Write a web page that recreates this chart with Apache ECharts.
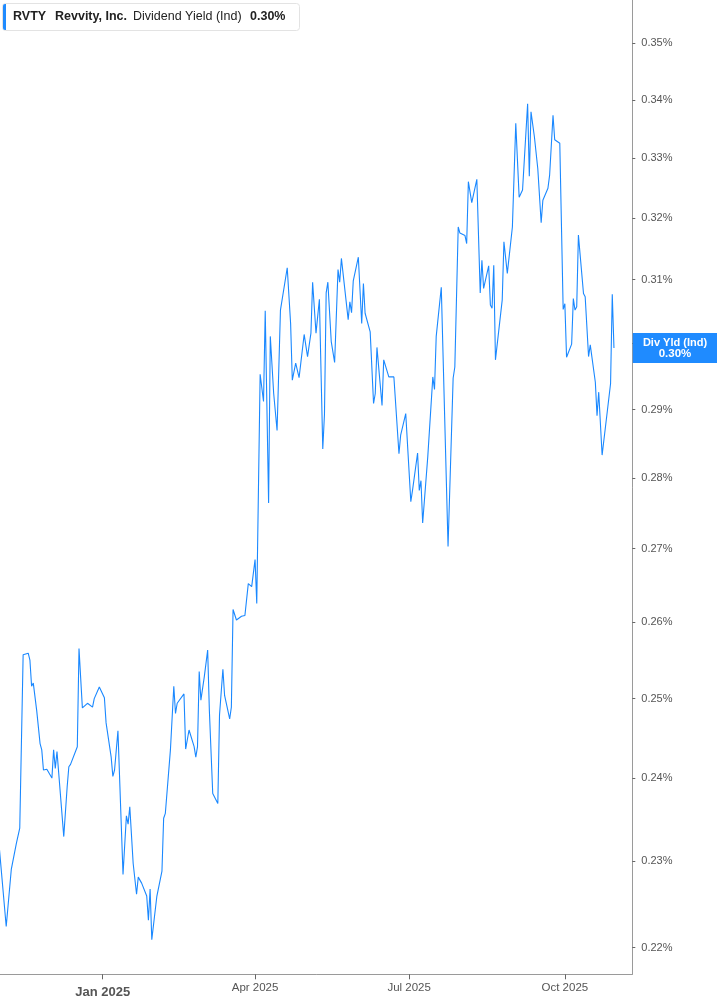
<!DOCTYPE html>
<html>
<head>
<meta charset="utf-8">
<script src="https://cdn.jsdelivr.net/npm/echarts@6/dist/echarts.min.js"></script>
<style>
html,body{margin:0;padding:0;background:#fff;}
#chart{width:717px;height:1005px;}
</style>
</head>
<body>
<div id="chart"></div>
<script>
// ---- data (dividend yield, %) ----
const dates = [
'2024-11-01','2024-11-05','2024-11-08','2024-11-11','2024-11-13','2024-11-15','2024-11-18','2024-11-19','2024-11-20','2024-11-21',
'2024-11-23','2024-11-25','2024-11-26','2024-11-27','2024-11-29','2024-12-02','2024-12-03','2024-12-04','2024-12-05','2024-12-09',
'2024-12-11','2024-12-12','2024-12-13','2024-12-17','2024-12-18','2024-12-20','2024-12-23','2024-12-26','2024-12-27','2024-12-30',
'2025-01-02','2025-01-03','2025-01-06','2025-01-07','2025-01-08','2025-01-10','2025-01-13','2025-01-15','2025-01-16','2025-01-17',
'2025-01-19','2025-01-21','2025-01-22','2025-01-24','2025-01-27','2025-01-28','2025-01-29','2025-01-30','2025-02-02','2025-02-05',
'2025-02-06','2025-02-07','2025-02-10','2025-02-12','2025-02-13','2025-02-14','2025-02-18','2025-02-19','2025-02-21','2025-02-24',
'2025-02-25','2025-02-26','2025-02-27','2025-02-28','2025-03-02','2025-03-04','2025-03-05','2025-03-07','2025-03-10','2025-03-11',
'2025-03-13','2025-03-14','2025-03-17','2025-03-18','2025-03-19','2025-03-21','2025-03-24','2025-03-26','2025-03-28','2025-03-30',
'2025-04-01','2025-04-02','2025-04-04','2025-04-06','2025-04-07','2025-04-09','2025-04-10','2025-04-12','2025-04-14','2025-04-16',
'2025-04-20','2025-04-22','2025-04-23','2025-04-25','2025-04-27','2025-04-30','2025-05-02','2025-05-04','2025-05-05','2025-05-07',
'2025-05-09','2025-05-11','2025-05-12','2025-05-13','2025-05-14','2025-05-16','2025-05-18','2025-05-20','2025-05-21','2025-05-22',
'2025-05-26','2025-05-27','2025-05-28','2025-05-29','2025-06-01','2025-06-03','2025-06-04','2025-06-05','2025-06-08','2025-06-10',
'2025-06-11','2025-06-12','2025-06-15','2025-06-16','2025-06-19','2025-06-22','2025-06-25','2025-06-26','2025-06-29','2025-07-02',
'2025-07-03','2025-07-06','2025-07-07','2025-07-08','2025-07-09','2025-07-12','2025-07-15','2025-07-16','2025-07-17','2025-07-20',
'2025-07-24','2025-07-27','2025-07-28','2025-07-30','2025-07-31','2025-08-03','2025-08-04','2025-08-05','2025-08-07','2025-08-10',
'2025-08-12','2025-08-13','2025-08-14','2025-08-17','2025-08-18','2025-08-19','2025-08-20','2025-08-21','2025-08-25','2025-08-26',
'2025-08-28','2025-08-31','2025-09-02','2025-09-04','2025-09-06','2025-09-09','2025-09-10','2025-09-11','2025-09-13','2025-09-15',
'2025-09-16','2025-09-17','2025-09-18','2025-09-21','2025-09-22','2025-09-24','2025-09-25','2025-09-28','2025-09-30','2025-10-01',
'2025-10-02','2025-10-05','2025-10-06','2025-10-07','2025-10-08','2025-10-09','2025-10-12','2025-10-13','2025-10-15','2025-10-16',
'2025-10-19','2025-10-20','2025-10-21','2025-10-23','2025-10-26','2025-10-28','2025-10-29','2025-10-30'
];
const yields = [
0.2314,0.2224,0.2290,0.2321,0.2339,0.2557,0.2559,0.2550,0.2516,0.2520,
0.2485,0.2443,0.2435,0.2410,0.2411,0.2400,0.2435,0.2412,0.2433,0.2329,
0.2389,0.2414,0.2417,0.2439,0.2565,0.2488,0.2494,0.2489,0.2500,0.2515,
0.2501,0.2469,0.2426,0.2402,0.2410,0.2459,0.2284,0.2354,0.2344,0.2365,
0.2297,0.2261,0.2281,0.2274,0.2259,0.2231,0.2267,0.2209,0.2259,0.2288,
0.2351,0.2357,0.2435,0.2516,0.2481,0.2494,0.2506,0.2436,0.2460,0.2439,
0.2426,0.2439,0.2535,0.2498,0.2528,0.2563,0.2485,0.2381,0.2369,0.2479,
0.2538,0.2504,0.2474,0.2489,0.2617,0.2603,0.2608,0.2609,0.2652,0.2648,
0.2685,0.2625,0.2953,0.2912,0.3051,0.2764,0.3011,0.2924,0.2869,0.3052,
0.3119,0.3031,0.2944,0.2970,0.2948,0.3014,0.2980,0.3016,0.3096,0.3016,
0.3069,0.2842,0.2893,0.3079,0.3096,0.3003,0.2971,0.3116,0.3096,0.3134,
0.3037,0.3065,0.3048,0.3098,0.3136,0.3031,0.3094,0.3047,0.3018,0.2909,
0.2924,0.2994,0.2906,0.2975,0.2949,0.2949,0.2835,0.2862,0.2894,0.2766,
0.2782,0.2836,0.2782,0.2796,0.2736,0.2830,0.2949,0.2930,0.3011,0.3088,
0.2703,0.2947,0.2964,0.3185,0.3175,0.3171,0.3158,0.3260,0.3225,0.3264,
0.3079,0.3131,0.3086,0.3122,0.3060,0.3055,0.3123,0.2975,0.3068,0.3161,
0.3110,0.3185,0.3359,0.3234,0.3246,0.3393,0.3269,0.3379,0.3336,0.3282,
0.3279,0.3192,0.3229,0.3249,0.3271,0.3373,0.3331,0.3325,0.3053,0.3062,
0.2979,0.2999,0.3070,0.3052,0.3057,0.3172,0.3078,0.3073,0.2980,0.2998,
0.2941,0.2891,0.2926,0.2833,0.2896,0.2939,0.3077,0.2993
];
const yTicks = [0.22,0.23,0.24,0.25,0.26,0.27,0.28,0.29,0.30,0.31,0.32,0.33,0.34,0.35];
const xTickDates = ['2025-01-01','2025-04-01','2025-07-01','2025-10-01'];
const xTickLabels = ['Jan 2025','Apr 2025','Jul 2025','Oct 2025'];
const legendParts = ['RVTY','Revvity, Inc.','Dividend Yield (Ind)','0.30%'];
const endLabelTitle = 'Div Yld (Ind)';

// ---- helpers ----
function ms(s){ const p = s.split('-').map(Number); return Date.UTC(p[0], p[1]-1, p[2]); }
const xTickMs = xTickDates.map(ms);
const lineColor = '#1a88ff';
const FONT = 'Liberation Sans, Arial, sans-serif';
const xMin = Date.UTC(2024,10,1,8);
const xMax = Date.UTC(2025,10,9,20);

const chart = echarts.init(document.getElementById('chart'));
const lastVal = yields[yields.length-1];

chart.setOption({
  animation:false,
  backgroundColor:'#fff',
  grid:{left:0, right:84.7, top:0, bottom:30.7, outerBoundsMode:'none'},
  xAxis:{
    type:'value',
    min:xMin,
    max:xMax,
    axisLine:{show:true, lineStyle:{color:'#9a9a9a', width:1}},
    axisTick:{show:true, length:5, lineStyle:{color:'#666'}, customValues:xTickMs},
    splitLine:{show:false},
    axisLabel:{
      customValues:xTickMs,
      margin:8,
      color:'#555',
      fontFamily:FONT,
      fontSize:11.5,
      formatter:function(v){
        let best=0, bd=Infinity;
        xTickMs.forEach((t,i)=>{const d=Math.abs(t-v); if(d<bd){bd=d;best=i;}});
        return best===0 ? '{b|'+xTickLabels[best]+'}' : xTickLabels[best];
      },
      rich:{b:{fontWeight:'bold', fontSize:13, color:'#555', fontFamily:FONT, padding:[4,0,0,0]}}
    }
  },
  yAxis:{
    type:'value',
    position:'right',
    min:Math.log(0.21700),
    max:Math.log(0.35787),
    axisLine:{show:true, lineStyle:{color:'#9a9a9a', width:1}},
    axisTick:{show:true, length:3, inside:false, lineStyle:{color:'#666'}, customValues:yTicks.map(Math.log)},
    splitLine:{show:false},
    axisLabel:{
      customValues:yTicks.map(Math.log),
      margin:9,
      color:'#555',
      fontFamily:FONT,
      fontSize:11,
      formatter:function(v){ return Math.exp(v).toFixed(2)+'%'; }
    }
  },
  series:[{
    type:'line',
    data:dates.map((d,i)=>[ms(d), Math.log(yields[i])]),
    showSymbol:false,
    symbol:'none',
    lineStyle:{color:lineColor, width:1.1},
    z:3
  }]
});

// end-value badge on the axis & legend box
const py = chart.convertToPixel({yAxisIndex:0}, Math.log(lastVal));
const axisX = chart.convertToPixel({xAxisIndex:0}, xMax);
const legendX = [13, 55, 133, 250];
const legendBold = [true, true, false, true];
chart.setOption({
  graphic:[
    {type:'rect', z:100, shape:{x:axisX+0.5, y:py-15, width:717-axisX, height:30}, style:{fill:'#1f8bff'}},
    {type:'text', z:101, x:675, y:py-5, style:{text:endLabelTitle, fill:'#fff', font:'bold 11px '+FONT, textAlign:'center', textVerticalAlign:'middle'}},
    {type:'text', z:101, x:675, y:py+6, style:{text:(lastVal).toFixed(2)+'%', fill:'#fff', font:'bold 11.5px '+FONT, textAlign:'center', textVerticalAlign:'middle'}},
    {type:'rect', z:100, shape:{x:2.5, y:3.5, width:297, height:27, r:3}, style:{fill:'#fff', stroke:'#e3e3e3', lineWidth:1}},
    {type:'rect', z:101, shape:{x:3, y:4, width:3, height:26, r:[2,0,0,2]}, style:{fill:'#1f8bff'}}
  ].concat(legendParts.map((t,i)=>({
    type:'text', z:101, x:legendX[i], y:17,
    style:{text:t, fill:'#222', font:(legendBold[i]?'bold ':'')+'12.5px '+FONT, textVerticalAlign:'middle'}
  })))
});
</script>
</body>
</html>
